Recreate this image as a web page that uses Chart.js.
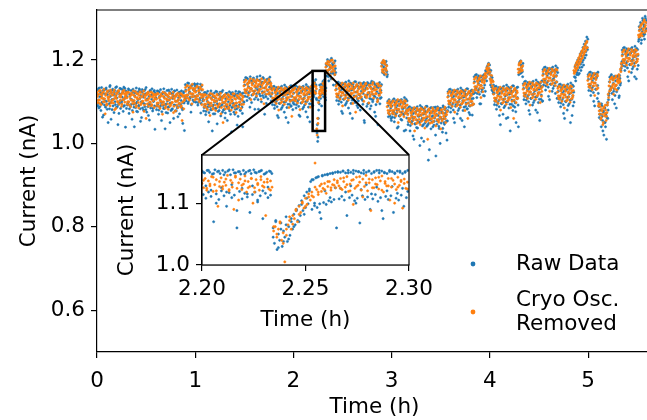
<!DOCTYPE html>
<html>
<head>
<meta charset="utf-8">
<script src="https://cdn.jsdelivr.net/npm/chart.js@4.4.0/dist/chart.umd.min.js"></script>
<style>
html, body { margin: 0; padding: 0; background: #fff; overflow: hidden; width: 647px; height: 420px; }
#wrap { position: relative; width: 647px; height: 420px; overflow: hidden; }
#main { position: absolute; left: 0; top: 0; }
#inset { position: absolute; left: 110px; top: 145px; }
</style>
</head>
<body>
<div id="wrap">
  <canvas id="main" width="660" height="420"></canvas>
  <canvas id="inset" width="340" height="190"></canvas>
</div>
<script>
// current in pA. raw sampled every 1/150 h, cryo-corrected every 1/120 h;
// the "B" arrays are the samples half a step later.
const rawStep = 1 / 150;
const cryoStep = 1 / 120;

const raw0 = [1128,1090,1131,1085,1112,1125,1079,1134,1095,1120,1068,1129,1101,1087,1133,1092,1117,1050,1126,1083,1139,1098,1122,1081,1130,1106,1074,1127,1093,1115,1136,1088,1045,1124,1097,1132,1084,1119,1102,1129,1077,1135,1091,1110,1126,
  1084,1123,1096,1131,1072,1118,1089,1127,1105,1079,1130,1094,1040,1121,1086,1133,1099,1076,1124,1091,1128,1083,1115,1062,1129,1097,1080,1126,1088,1119,1134,1075,1107,1122,1093,1056,1127,1085,1116,1131,1078,1101,1125,1090,1121,
  1118,1081,1126,1094,1070,1123,1087,1129,1098,1076,1120,1091,1131,1084,1035,1117,1095,1127,1073,1112,1088,1124,1096,1079,1130,1083,1119,1060,1125,1092,1114,1078,1128,1089,1104,1122,1071,1116,1094,1126,1085,1048,1121,1097,1113,
  1141,1102,1138,1115,1096,1144,1121,1108,1136,1093,1140,1112,1129,1100,1143];
const raw1 = [1137,1099,1140,1114,1092,1135,1120,1104,1142,1096,1128,1110,
  1116,1078,1122,1090,1069,1119,1085,1125,1094,1074,1117,1088,1126,1081,1030,1113,1092,1121,1071,1109,1084,1124,1095,1077,1118,1087,1123,1066,1111,1093,1127,1080,1115,1098,1073,1120,1089,1055,1116,1083,1124,1091,1070,1118,1086,1122,1096,1075,1114,1082,1125,1090,1044,1119,1087,1110,1123,1079,1117,1094,1072,1121,1100,
  1152,1113,1158,1126,1103,1155,1121,1146,1108,1160,1131,1098,1150,1117,1157,1125,1082,1148,1111,1154,1129,1105,1151,1119,1162,1136,1100,1147,1115,1156,1123,1070,1149,1112,1153,1128,1107,1145,1118,1159,1134,1102,
  1131,1093,1136,1105,1084,1129,1099,1134,1088,1120,1062,1133,1096,1125,1082,1137,1108,1091,1130,1075,1127,1100,1135,1086,1118,1050,1132,1094,1123,1089,1138,1103,1081];
const raw2 = [1132,1094,1138,1106,1085,1130,1100,1135,1089,1121,1065,1134,1097,1126,1083,1137,1109,1092,1131,1076,1128,1101,1136,1087,1119,1052,1133,1095,1124,1090,
  1150,1112,1147,1120,1153,1108,
  1025,1005,1060,
  1102,1140,1115,1135,1090,1143,
  1149,1112,1152,1125,1104,
  1190,1162,1201,1175,1150,1196,1183,1168,1204,1172,1188,1140,1193,1165,1180,
  1141,1103,1146,1115,1094,1140,1108,1144,1099,1130,1072,1143,1106,1135,1092,1147,1118,1101,1139,1085,1137,1110,1145,1096,1128,1060,1142,1104,1133,1098,1148,1113,1091,1138,1102,1145,1117,1080,1136,1107,1143,1094,1129,1055,1141,1111,1134,1089,1146,1120,1097,1139,1083,1144,1106,1131,1100,1147,1114,1075,1140,1093,1136,1108,1045,1143,1119,1095,1137,1110,
  1192,1170,1198,1183,1165,1195,1176,1188,1160,
  1101,1064,1105,1078,1098,1060];
const raw3 = [1100,1063,1104,1075,1052,1098,1069,1103,1080,1091,1040,1102,1066,1095,1058,1105,1084,1071,1099,1030,1096,1074,1106,1061,
  1082,1045,1086,1058,1030,1080,1050,1085,1062,1072,1010,1084,1047,1077,1038,1088,1066,1052,1081,995,1079,1055,1087,1042,1070,1005,1083,1049,1076,1060,1089,1044,960,1080,1057,1085,1035,1074,1064,1040,1086,1053,1078,1020,1082,1046,1088,1067,1041,1079,1000,1084,1059,1073,1036,1087,1050,1081,1065,1025,1077,1054,
  1124,1087,1129,1098,1075,1122,1091,1127,1080,1113,1050,1126,1093,1118,1071,1130,1101,1084,1123,1060,1120,1095,1128,1079,1111,1040,1125,1089,1117,1083,1131,1097,1074,1121,1090,1126,1107,1068,1119,1094,
  1160,1122,1164,1133,1110,1158,1127,1162,1118,1150,1095,1161,1129,1154,1115,1165,1140,1125,1172,1150,1185,1168,1192,1176];
const raw4 = [1170,1140,1162,1128,1150,1120,
  1131,1093,1136,1104,1082,1129,1098,1134,1088,1120,1045,1132,1095,1125,1070,1137,1107,1090,1130,1060,1127,1100,1135,1085,1118,1030,1133,1094,1124,1079,1138,1102,1087,1128,1050,1134,1110,1092,
  1165,1190,1175,1198,1170,1185,1160,
  1143,1105,1148,1117,1095,1141,1110,1146,1100,1132,1070,1144,1108,1137,1092,1149,1120,1103,1140,1080,1139,1112,1147,1098,1130,1055,1145,1106,1135,1101,
  1177,1140,1182,1151,1128,1175,1145,1180,1135,1168,1105,1179,1142,1172,1125,1183,1155,1138,1176,1120,1174,1148,1181,
  1136,1098,1141,1110,1088,1134,1103,1139,1093,1125,1060,1137,1100,1130,1080,1142,1112,1095,1135,1050,1132,1106,1140,1090,1123,
  1160,1185,1150,1192,1170,1200,1165,1205,1182,1215,1175,1220,1195,1230,1188,1238,1205,1245,1212,1255,1225];
const raw5 = [1165,1127,1170,1139,1115,1163,1133,1168,1122,1156,1090,1167,1130,1160,1108,1171,
  1100,1062,1095,1070,1040,1090,1055,1075,1020,1085,1050,1068,1010,1092,1060,1105,
  1120,1159,1128,1162,1135,1105,1157,1125,1161,1115,1150,1085,1160,1130,1155,1110,1163,1140,1175,1190,
  1224,1186,1229,1198,1175,1222,1192,1227,1181,1213,1150,1225,1189,1218,1170,1230,1201,1184,1223,1160,1220,1195,1228,1178,1211,
  1245,1280,1255,1290,1240,1275,1300,1262,1285,1250,1305,1270,1295];

const rawB0 = [1117,1096,1104,1133,1088,1121,1112,1099,1063,1127,1107,1092,1119,1130,1101,1082,1124,1110,1095,1136,1113,1058,1105,1128,1090,1116,1122,1100,1134,1086,1109,1125,1093,1072,1118,1103,1131,1097,1111,1123,1089,1106,1132,1039,1115,
  1111,1092,1099,1128,1083,1116,1107,1094,1058,1122,1102,1087,1114,1125,1096,1077,1119,1105,1090,1131,1108,1053,1100,1123,1085,1111,1117,1095,1129,1081,1104,1120,1088,1067,1113,1098,1126,1092,1106,1118,1084,1101,1127,1034,1110,
  1108,1089,1096,1125,1080,1113,1104,1091,1055,1119,1099,1084,1111,1122,1093,1074,1116,1102,1087,1128,1105,1050,1097,1120,1082,1108,1114,1092,1126,1078,1101,1117,1085,1064,1110,1095,1123,1089,1103,1115,1081,1098,1124,1031,1107,
  1128,1109,1116,1145,1100,1133,1124,1111,1075,1139,1119,1104,1131,1142,1113];
const rawB1 = [1126,1107,1114,1143,1098,1131,1122,1109,1073,1137,1117,1102,
  1105,1086,1093,1122,1077,1110,1101,1088,1052,1116,1096,1081,1108,1119,1090,1071,1113,1099,1084,1125,1102,1047,1094,1117,1079,1105,1111,1089,1123,1075,1098,1114,1082,1061,1107,1092,1120,1086,1100,1112,1078,1095,1121,1028,1104,1088,1115,1091,1070,1118,1097,1083,1110,1065,1124,1093,1080,1106,1119,1087,1040,1113,1099,
  1140,1121,1128,1157,1112,1145,1136,1123,1087,1151,1131,1116,1143,1154,1125,1106,1148,1134,1119,1160,1137,1082,1129,1152,1114,1140,1146,1124,1158,1110,1133,1149,1117,1096,1142,1127,1155,1121,1135,1147,1113,1130,
  1120,1101,1108,1137,1092,1125,1116,1103,1067,1131,1111,1096,1123,1134,1105,1086,1128,1114,1099,1140,1117,1062,1109,1132,1094,1120,1126,1104,1138,1090,1113,1129,1097];
const rawB2 = [1121,1102,1109,1138,1093,1126,1117,1104,1068,1132,1112,1097,1124,1135,1106,1087,1129,1115,1100,1141,1118,1063,1110,1133,1095,1121,1127,1105,1139,1091,
  1136,1117,1144,1125,1140,1105,
  1045,1015,1080,
  1095,1128,1108,1142,1118,1130,
  1138,1120,1145,1110,1133,
  1185,1170,1195,1160,1188,1178,1199,1155,1182,1192,1168,1186,1175,1198,1170,
  1130,1111,1118,1147,1102,1135,1126,1113,1077,1141,1121,1106,1133,1144,1115,1096,1138,1124,1109,1150,1127,1072,1119,1142,1104,1130,1136,1114,1148,1100,1123,1139,1107,1086,1132,1117,1145,1111,1125,1137,1103,1120,1146,1050,1129,1112,1140,1116,1095,1143,1122,1108,1135,1090,1149,1118,1105,1131,1144,1112,1065,1138,1124,1101,1134,1119,1146,1108,1127,1141,
  1186,1175,1194,1168,1190,1180,1197,1172,1165,
  1090,1072,1098,1066,1085,1055];
const rawB3 = [1090,1071,1078,1107,1062,1095,1086,1073,1037,1101,1081,1066,1093,1104,1075,1056,1098,1084,1069,1110,1087,1032,1079,1102,
  1071,1052,1059,1088,1043,1076,1067,1054,1018,1082,1062,1047,1074,1085,1056,1037,1079,1065,1050,1091,1068,1013,1060,1083,1045,1071,1077,1055,1089,1041,1064,1080,1048,985,1073,1058,1086,1052,1066,1078,1044,1061,1087,970,1070,1054,1081,1057,1036,1084,1063,1049,1076,1027,1090,1059,1046,1072,1085,1053,1008,1079,
  1113,1094,1101,1130,1085,1118,1109,1096,1060,1124,1104,1089,1116,1127,1098,1079,1121,1107,1092,1133,1110,1055,1102,1125,1087,1113,1119,1097,1131,1083,1106,1122,1090,1069,1115,1100,1128,1094,1108,1120,
  1148,1129,1136,1165,1120,1153,1144,1131,1095,1159,1139,1124,1151,1162,1133,1114,1156,1175,1160,1182,1170,1190,1178,1188];
const rawB4 = [1155,1175,1135,1158,1125,1140,
  1120,1101,1108,1137,1092,1125,1116,1103,1067,1131,1111,1096,1123,1134,1105,1086,1128,1114,1099,1140,1117,1062,1109,1132,1094,1120,1126,1104,1138,1090,1113,1129,1097,1076,1122,1107,1135,1040,
  1178,1195,1168,1188,1182,1172,1192,
  1132,1113,1120,1149,1104,1137,1128,1115,1079,1143,1123,1108,1135,1146,1117,1098,1140,1126,1111,1152,1129,1074,1121,1144,1106,1132,1138,1116,1150,1102,
  1166,1147,1154,1183,1138,1171,1162,1149,1113,1177,1157,1142,1169,1180,1151,1132,1174,1160,1145,1186,1163,1108,1170,
  1125,1106,1113,1142,1097,1130,1121,1108,1072,1136,1116,1101,1128,1139,1110,1091,1133,1119,1104,1145,1122,1067,1114,1137,1099,
  1172,1158,1180,1165,1188,1176,1195,1168,1202,1190,1210,1183,1218,1200,1226,1212,1235,1220,1242,1230,1250];
const rawB5 = [1154,1135,1142,1171,1126,1159,1150,1137,1101,1165,1145,1130,1157,1168,1139,1120,
  1088,1070,1080,1058,1095,1065,1030,1078,1050,1085,1040,1072,1062,1098,1080,1115,
  1148,1129,1136,1165,1120,1153,1144,1131,1095,1159,1139,1124,1151,1162,1133,1114,1156,1145,1180,1196,
  1213,1194,1201,1230,1185,1218,1209,1196,1160,1224,1204,1189,1216,1227,1198,1179,1221,1207,1192,1233,1210,1155,1202,1225,1187,
  1250,1272,1260,1285,1248,1268,1295,1258,1280,1262,1300,1275,1290];

const cryo0 = [1122,1098,1118,1104,1127,1093,1115,1108,1124,1100,1071,1119,1095,1126,1106,1112,1090,1123,1102,1117,1097,1128,1109,1084,1120,1101,1125,1094,1116,1111,1089,1121,1105,1127,1099,1114,
  1118,1094,1123,1100,1112,1088,1121,1103,1075,1116,1097,1124,1091,1110,1119,1085,1107,1122,1096,1113,1101,1126,1092,1115,1060,1120,1104,1089,1117,1099,1123,1093,1111,1118,1086,1108,
  1115,1091,1120,1097,1109,1084,1118,1100,1070,1113,1094,1121,1088,1107,1116,1082,1104,1119,1093,1110,1098,1123,1089,1112,1078,1117,1101,1086,1114,1096,1120,1090,1055,1115,1083,1105,
  1134,1110,1139,1116,1128,1104,1137,1119,1095,1132,1113,1126];
const cryo1 = [1132,1108,1137,1114,1126,1100,1135,1117,1093,1129,
  1112,1088,1117,1094,1106,1081,1115,1097,1067,1110,1091,1118,1085,1104,1113,1079,1101,1116,1090,1107,1095,1120,1086,1109,1050,1114,1098,1083,1111,1093,1117,1087,1105,1112,1080,1102,1119,1092,1108,1096,1074,1115,1089,1110,1099,1118,1084,1106,1113,1094,
  1147,1123,1152,1129,1141,1116,1150,1132,1105,1145,1126,1153,1120,1139,1148,1114,1136,1151,1125,1142,1130,1155,1121,1144,1095,1149,1133,1118,1146,1128,1154,1122,1140,1137,
  1127,1103,1132,1109,1121,1096,1130,1112,1080,1125,1106,1133,1100,1119,1128,1094,1116,1131,1105,1122,1110,1135,1101,1124,1065,1129];
const cryo2 = [1128,1104,1133,1110,1122,1097,1131,1113,1081,1126,1107,1134,1101,1120,1129,1095,1117,1132,1106,1123,1111,1136,1102,1125,
  1142,1124,1138,1120,
  1131,
  1020,1048,
  1110,1125,1118,1130,1122,
  1144,1120,1149,1126,
  1192,1170,1197,1176,1188,1163,1199,1182,1155,1194,1173,1186,
  1137,1113,1142,1119,1131,1106,1140,1122,1090,1135,1116,1143,1110,1129,1138,1104,1126,1141,1115,1132,1120,1145,1111,1134,1075,1139,1123,1108,1136,1118,1144,1112,1130,1137,1101,1127,1142,1114,1133,1121,1097,1140,1117,1131,1124,1146,1109,1135,1128,1119,1143,1105,1138,1116,1130,1122,
  1194,1172,1199,1178,1190,1166,1186,
  1097,1073,1102,1079,1091];
const cryo3 = [1097,1073,1102,1079,1091,1066,1100,1082,1050,1095,1076,1103,1070,1089,1098,1064,1086,1101,1075,1092,
  1078,1054,1083,1060,1072,1047,1081,1063,1030,1076,1057,1084,1051,1070,1079,1045,1067,1082,1056,1073,1061,1086,1052,1075,1010,1080,1064,1049,1077,1059,1085,1053,1071,1078,1042,1068,1083,1055,1074,1062,1035,1081,1058,1072,1065,1087,1050,1069,1076,
  1120,1096,1125,1102,1114,1089,1123,1105,1075,1118,1099,1126,1093,1112,1121,1087,1109,1124,1098,1115,1103,1128,1094,1117,1060,1122,1106,1091,1119,1101,1127,1095,
  1154,1130,1159,1136,1148,1123,1157,1139,1110,1152,1133,1160,1145,1165,1158,1178,1170,1188,1180];
const cryo4 = [1172,1150,1163,1138,1148,
  1127,1103,1132,1109,1121,1096,1130,1112,1080,1125,1106,1133,1100,1119,1128,1094,1116,1131,1105,1122,1110,1135,1101,1124,1060,1129,1113,1098,1126,1108,
  1170,1192,1178,1197,1174,1186,
  1139,1115,1144,1121,1133,1108,1142,1124,1092,1137,1118,1145,1112,1131,1140,1106,1128,1143,1117,1134,1122,1147,1113,1136,
  1172,1148,1177,1154,1166,1141,1175,1157,1125,1170,1151,1178,1145,1164,1173,1139,1161,1176,
  1132,1108,1137,1114,1126,1101,1135,1117,1085,1130,1111,1138,1105,1124,1133,1099,1121,1136,1110,1127,
  1168,1182,1174,1193,1181,1200,1190,1210,1197,1218,1205,1226,1214,1233,1222,1242,1230];
const cryo5 = [1160,1136,1165,1142,1154,1129,1163,1145,1115,1158,1139,1166,1133,
  1095,1070,1088,1062,1078,1045,1085,1066,1092,1055,1074,1098,1110,
  1125,1154,1133,1159,1140,1118,1156,1137,1162,1128,1150,1145,1160,1148,1172,1185,
  1219,1195,1224,1201,1213,1188,1222,1204,1172,1217,1198,1225,1192,1211,1220,1186,1208,1223,1197,1214,
  1255,1278,1262,1285,1258,1275,1292,1266,1283,1270];

const cryoB0 = [1113,1104,1126,1096,1118,1109,1121,1100,1130,1107,1115,1092,1124,1111,1102,1119,1128,1097,1116,1105,1123,1081,1114,1108,1120,1099,1127,1112,1103,1117,1094,1125,1106,1119,1110,1122,
  1109,1100,1122,1092,1114,1105,1117,1096,1126,1103,1111,1088,1120,1107,1098,1115,1124,1093,1112,1101,1119,1077,1110,1104,1116,1095,1123,1108,1099,1113,1090,1121,1102,1115,1106,1118,
  1106,1097,1119,1089,1111,1102,1114,1093,1123,1100,1108,1085,1117,1104,1095,1112,1121,1090,1109,1098,1116,1074,1107,1101,1113,1092,1120,1105,1096,1110,1087,1118,1099,1112,1103,1115,
  1125,1116,1138,1108,1130,1121,1133,1112,1142,1119,1127,1104];
const cryoB1 = [1123,1114,1136,1106,1128,1119,1131,1110,1140,1117,
  1103,1094,1116,1086,1108,1099,1111,1090,1120,1097,1105,1082,1114,1101,1092,1109,1118,1087,1106,1095,1113,1071,1104,1098,1110,1089,1117,1102,1093,1107,1084,1115,1096,1109,1100,1112,1091,1119,1085,1106,1097,1114,1088,1108,1099,1116,1093,1103,1111,
  1138,1129,1151,1121,1143,1134,1146,1125,1155,1132,1140,1117,1149,1136,1127,1144,1153,1122,1141,1130,1148,1106,1139,1133,1145,1124,1152,1137,1128,1142,1119,1150,1131,1144,
  1118,1109,1131,1101,1123,1114,1126,1105,1135,1112,1120,1097,1129,1116,1107,1124,1133,1102,1121,1110,1128,1086,1119,1113,1125,1104];
const cryoB2 = [1119,1110,1132,1102,1124,1115,1127,1106,1136,1113,1121,1098,1130,1117,1108,1125,1134,1103,1122,1111,1129,1087,1120,1114,
  1133,1127,1145,1122,
  1136,
  1035,1060,
  1098,1120,1112,1135,1126,
  1135,1128,1141,1118,
  1183,1175,1190,1168,1195,1179,1186,1172,1200,1177,1184,1165,
  1128,1119,1141,1111,1133,1124,1136,1115,1145,1122,1130,1107,1139,1126,1117,1134,1143,1112,1131,1120,1138,1096,1129,1123,1135,1114,1142,1127,1118,1132,1109,1140,1121,1134,1125,1137,1116,1144,1110,1131,1122,1139,1113,1133,1124,1141,1118,1128,1136,1120,1130,1100,1143,1115,1126,1138,
  1185,1177,1193,1170,1196,1180,1175,
  1088,1079,1096,1070,1092];
const cryoB3 = [1088,1079,1101,1071,1093,1084,1096,1075,1105,1082,1090,1067,1099,1086,1077,1094,1103,1072,1091,1080,
  1069,1060,1082,1052,1074,1065,1077,1056,1086,1063,1071,1048,1080,1067,1058,1075,1084,1053,1072,1061,1079,1037,1070,1064,1076,1055,1083,1068,1059,1073,1050,1081,1062,1075,1066,1078,1057,1085,1051,1072,1063,1080,1054,1074,1065,1082,1059,1069,1077,
  1111,1102,1124,1094,1116,1107,1119,1098,1128,1105,1113,1090,1122,1109,1100,1117,1126,1095,1114,1103,1121,1079,1112,1106,1118,1097,1125,1110,1101,1115,1092,1123,
  1145,1136,1158,1128,1150,1141,1153,1132,1162,1139,1147,1124,1156,1150,1168,1162,1182,1175,1190];
const cryoB4 = [1165,1155,1145,1152,1132,
  1118,1109,1131,1101,1123,1114,1126,1105,1135,1112,1120,1097,1129,1116,1107,1124,1133,1102,1121,1110,1128,1086,1119,1113,1125,1104,1132,1117,1108,1122,
  1178,1188,1172,1194,1183,1176,
  1130,1121,1143,1113,1135,1126,1138,1117,1147,1124,1132,1109,1141,1128,1119,1136,1145,1114,1133,1122,1140,1098,1131,1125,
  1163,1154,1176,1146,1168,1159,1171,1150,1180,1157,1165,1142,1174,1161,1152,1169,1178,1147,
  1123,1114,1136,1106,1128,1119,1131,1110,1140,1117,1125,1102,1134,1121,1112,1129,1138,1107,1126,1115,
  1175,1170,1188,1178,1196,1186,1205,1193,1214,1202,1222,1210,1230,1219,1238,1228,1245];
const cryoB5 = [1151,1142,1164,1134,1156,1147,1159,1138,1168,1145,1153,1130,1162,
  1090,1078,1095,1058,1082,1070,1050,1088,1072,1080,1065,1092,1118,
  1138,1147,1128,1157,1135,1152,1143,1131,1158,1140,1149,1155,1165,1152,1178,1192,
  1210,1201,1223,1193,1215,1206,1218,1197,1227,1204,1212,1189,1221,1208,1199,1216,1225,1194,1213,1202,
  1260,1270,1258,1282,1265,1288,1272,1296,1278,1290];

// inset window 2.20 - 2.30 h, finer sampling
const insetStart = 2.2;
const insetRawStep = 0.1 / 160;
const insetRawBStep = 0.1 / 80;
const insetCryoStep = 0.1 / 130;
const insetCryoBStep = 0.1 / 65;
const insetRaw = [1152,1114,1149,1108,1153,1118,1150,1111,1147,1070,1154,1115,1151,1106,1148,1120,1153,1112,1150,1095,1152,1117,1146,1109,1154,1113,1149,1060,1151,1119,1147,1107,1153,1116,1150,1110,1152,1085,1148,1114,1154,1118,1149,1105,1151,1112,1153,1075,1147,1116,1150,1109,1152,1113,1148,
  1060,1035,1072,1025,1050,1040,1068,1030,1055,1045,1078,1038,1062,1048,1070,
  1058,1082,1065,1090,1072,1096,1080,1104,1088,1112,1093,1118,1099,1123,
  1135,1090,1138,1096,1141,1093,1143,1099,1075,1145,1101,1146,1098,1147,1104,1148,1102,1149,1106,1150,1060,
  1151,1107,1150,1111,1152,1105,1149,1080,1153,1109,1150,1113,1148,1104,1152,1108,1151,1068,1149,1112,1153,1106,1150,1110,1152,1090,1148,1107,1151,1114,1153,1103,1149,1109,1152,1075,1150,1111,1148,1106,1153,1112,1151,1085,1149,1108,1152,1105,1150,1113,1148,1095,1151,1109,1153];
const insetRawB = [1150,1128,1153,1121,1148,1100,1152,1125,1146,1118,1154,1130,1149,1088,1151,1124,1147,1115,1153,1128,1150,1102,1152,1120,1148,1126,1151,
  1045,1070,1028,1058,1038,1065,1042,
  1075,1062,1088,1070,1098,1082,1108,
  1120,1138,1100,1142,1085,1144,1120,1146,1109,1148,1125,
  1150,1124,1152,1118,1149,1128,1153,1100,1151,1122,1148,1130,1152,1115,1150,1126,1153,1088,1149,1120,1151,1127,1148,1116,1152,1124,1150,1119];
const insetCryo = [1132,1125,1140,1121,1136,1128,1143,1119,1130,1138,1095,1127,1141,1123,1134,1129,1145,1120,1137,1126,1090,1142,1124,1133,1139,1122,1131,1144,1118,1135,1127,1140,1100,1125,1138,1130,1121,1143,1128,1134,1080,1139,1123,1136,1126,
  1055,1062,1045,1058,1068,1040,1052,1005,
  1048,1065,1072,1058,1080,1075,1088,1070,1095,1085,1100,1092,1108,1098,1115,1105,
  1118,1110,1165,1122,1114,1128,1119,1124,1132,1116,1127,1135,1121,1130,1138,1125,1133,
  1128,1140,1122,1135,1126,1143,1119,1131,1137,1098,1124,1142,1129,1134,1121,1139,1127,1145,1120,1133,1088,1138,1125,1141,1130,1123,1136,1144,1118,1132,1128,1140,1105,1126,1137,1131,1122,1142,1129,1135,1092,1139,1124,1134];
const insetCryoB = [1137,1124,1131,1142,1120,1135,1127,1139,1122,1133,1144,1105,1129,1136,1125,1140,1118,1132,1138,1126,1134,1121,
  1062,1050,1070,1035,
  1058,1078,1066,1090,1082,1102,1095,1110,
  1112,1126,1118,1131,1122,1135,1125,1129,
  1136,1124,1141,1130,1120,1138,1127,1143,1110,1133,1139,1125,1131,1142,1121,1135,1128,1140,1100,1126,1137,1132,1123];

const xTicks = [0, 1, 2, 3, 4, 5];
const yTicks = [0.6, 0.8, 1.0, 1.2];
const insetXTicks = [2.20, 2.25, 2.30];
const insetYTicks = [1.0, 1.1];

const blue = '#1f77b4';
const orange = '#ff7f0e';
const font = { family: 'DejaVu Sans', size: 21.5 };

function toPoints(values, start, step, shift) {
  return values.map((v, i) => ({ x: start + (i + shift) * step, y: v / 1000 }));
}

const rawPts = toPoints([...raw0, ...raw1, ...raw2, ...raw3, ...raw4, ...raw5], 0, rawStep, 0)
  .concat(toPoints([...rawB0, ...rawB1, ...rawB2, ...rawB3, ...rawB4, ...rawB5], 0, rawStep, 0.5));
const cryoPts = toPoints([...cryo0, ...cryo1, ...cryo2, ...cryo3, ...cryo4, ...cryo5], 0, cryoStep, 0)
  .concat(toPoints([...cryoB0, ...cryoB1, ...cryoB2, ...cryoB3, ...cryoB4, ...cryoB5], 0, cryoStep, 0.5));
const insetRawPts = toPoints(insetRaw, insetStart, insetRawStep, 0)
  .concat(toPoints(insetRawB, insetStart, insetRawBStep, 0.5));
const insetCryoPts = toPoints(insetCryo, insetStart, insetCryoStep, 0)
  .concat(toPoints(insetCryoB, insetStart, insetCryoBStep, 0.5));

Chart.defaults.color = '#000';
Chart.defaults.font.family = 'DejaVu Sans';

function series(label, data, color, order) {
  return { label, data, backgroundColor: color, borderColor: color, pointRadius: 1.1, borderWidth: 0.6, order };
}

function axis(min, max, ticks, fmt, size, tickPad, title, titlePad) {
  return {
    type: 'linear', min, max,
    afterBuildTicks: s => { s.ticks = ticks.map(v => ({ value: v })); },
    afterFit: s => {
      if (s.isHorizontal()) { s.height = size; s.paddingLeft = 0; s.paddingRight = 0; }
      else { s.width = size; s.paddingTop = 0; s.paddingBottom = 0; }
    },
    grid: { display: true, drawOnChartArea: false, tickLength: 6, color: '#000', lineWidth: 1.2 },
    border: { display: true, color: '#000', width: 1.2 },
    ticks: { font, color: '#000', padding: tickPad, maxRotation: 0, autoSkip: false, callback: v => v.toFixed(fmt) },
    title: { display: true, text: title, font, color: '#000', padding: titlePad }
  };
}

// inset axes: white face and full frame
const insetFrame = {
  id: 'insetFrame',
  beforeDatasetsDraw(chart) {
    const { ctx, chartArea: a } = chart;
    ctx.save();
    ctx.fillStyle = '#fff';
    ctx.fillRect(a.left, a.top, a.right - a.left, a.bottom - a.top);
    ctx.restore();
  },
  afterDraw(chart) {
    const { ctx, chartArea: a } = chart;
    ctx.save();
    ctx.strokeStyle = '#000';
    ctx.lineWidth = 1.2;
    ctx.strokeRect(a.left, a.top, a.right - a.left, a.bottom - a.top);
    ctx.restore();
  }
};

const insetChart = new Chart(document.getElementById('inset'), {
  type: 'scatter',
  data: { datasets: [series('Raw Data', insetRawPts, blue, 1), series('Cryo Osc. Removed', insetCryoPts, orange, 0)] },
  options: {
    responsive: false, animation: false, events: [],
    layout: { padding: { left: 0, top: 10, right: 41, bottom: 0 } },
    plugins: { legend: { display: false }, tooltip: { enabled: false } },
    scales: {
      x: axis(2.2, 2.3, insetXTicks, 2, 70, 6, 'Time (h)', { top: 0, bottom: 2 }),
      y: axis(1.0, 1.178, insetYTicks, 1, 92, 6, 'Current (nA)', { top: 5, bottom: 0 })
    }
  },
  plugins: [insetFrame]
});

const boxX = [2.195, 2.322];
const boxY = [1.03, 1.174];
const insetLeft = 110, insetTop = 145;

const zoomMarks = {
  id: 'zoomMarks',
  afterDatasetsDraw(chart) {
    const { ctx, chartArea: a, scales: { x, y } } = chart;
    ctx.save();
    // top spine
    ctx.strokeStyle = '#000';
    ctx.lineWidth = 1.2;
    ctx.beginPath();
    ctx.moveTo(a.left, a.top);
    ctx.lineTo(a.right, a.top);
    ctx.stroke();
    const l = x.getPixelForValue(boxX[0]), r = x.getPixelForValue(boxX[1]);
    const t = y.getPixelForValue(boxY[1]), b = y.getPixelForValue(boxY[0]);
    const ia = insetChart.chartArea;
    ctx.lineWidth = 2;
    ctx.beginPath();
    ctx.moveTo(l, t);
    ctx.lineTo(insetLeft + ia.left, insetTop + ia.top);
    ctx.moveTo(r, t);
    ctx.lineTo(insetLeft + ia.right, insetTop + ia.top);
    ctx.stroke();
    ctx.lineWidth = 2.5;
    ctx.strokeRect(l, t, r - l, b - t);
    ctx.restore();
  }
};

const legendMarks = {
  id: 'legendMarks',
  afterDraw(chart) {
    const { ctx } = chart;
    const items = [
      { color: blue, y: 264, lines: ['Raw Data'] },
      { color: orange, y: 312, lines: ['Cryo Osc.', 'Removed'] }
    ];
    ctx.save();
    ctx.font = font.size + 'px ' + font.family;
    ctx.textBaseline = 'middle';
    ctx.textAlign = 'left';
    items.forEach(it => {
      ctx.fillStyle = it.color;
      ctx.beginPath();
      ctx.arc(473, it.y, 2.4, 0, Math.PI * 2);
      ctx.fill();
      ctx.fillStyle = '#000';
      const h = 24;
      const y0 = it.y - (it.lines.length - 1) * h / 2;
      it.lines.forEach((s, k) => ctx.fillText(s, 516, y0 + k * h));
    });
    ctx.restore();
  }
};

const mainChart = new Chart(document.getElementById('main'), {
  type: 'scatter',
  data: { datasets: [series('Raw Data', rawPts, blue, 1), series('Cryo Osc. Removed', cryoPts, orange, 0)] },
  options: {
    responsive: false, animation: false, events: [],
    layout: { padding: { left: 0, top: 10, right: 8, bottom: 0 } },
    plugins: { legend: { display: false }, tooltip: { enabled: false } },
    scales: {
      x: axis(0, 5.65, xTicks, 0, 68, 11, 'Time (h)', { top: 0, bottom: 0 }),
      y: axis(0.5, 1.32, yTicks, 1, 97, 6, 'Current (nA)', { top: 17, bottom: 0 })
    }
  },
  plugins: [zoomMarks, legendMarks]
});
</script>
</body>
</html>
